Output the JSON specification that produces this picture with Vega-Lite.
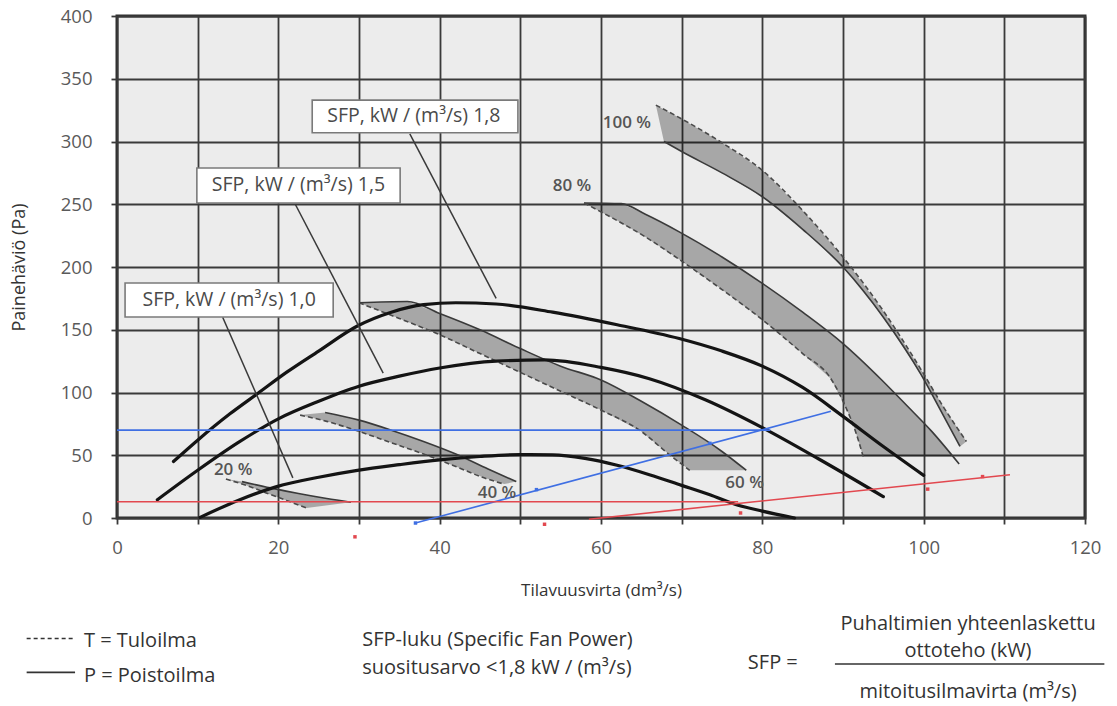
{
  "$schema": "https://vega.github.io/schema/vega-lite/v6.json",
  "width": 968,
  "height": 502,
  "autosize": {"type": "none"},
  "padding": {"left": 117, "top": 16, "right": 32, "bottom": 188},
  "background": "#ffffff",
  "config": {
    "view": {"fill": "#ececec", "stroke": "#2e2e2e", "strokeWidth": 3},
    "font": "Open Sans"
  },
  "datasets": {
    "fan": [
      {"curve": "A", "x": 7, "y": 45}, {"curve": "A", "x": 10, "y": 62}, {"curve": "A", "x": 14, "y": 83}, {"curve": "A", "x": 17.4, "y": 99},
      {"curve": "A", "x": 21, "y": 116}, {"curve": "A", "x": 25, "y": 133}, {"curve": "A", "x": 29.8, "y": 153}, {"curve": "A", "x": 34, "y": 164},
      {"curve": "A", "x": 38, "y": 170}, {"curve": "A", "x": 42, "y": 171.5}, {"curve": "A", "x": 47, "y": 170.5}, {"curve": "A", "x": 54, "y": 164},
      {"curve": "A", "x": 62, "y": 154}, {"curve": "A", "x": 69.7, "y": 143}, {"curve": "A", "x": 75, "y": 133}, {"curve": "A", "x": 80, "y": 121},
      {"curve": "A", "x": 85, "y": 104}, {"curve": "A", "x": 90, "y": 81}, {"curve": "A", "x": 95, "y": 57}, {"curve": "A", "x": 100, "y": 34},
      {"curve": "B", "x": 5, "y": 14.5}, {"curve": "B", "x": 10, "y": 38}, {"curve": "B", "x": 15, "y": 60}, {"curve": "B", "x": 20, "y": 79},
      {"curve": "B", "x": 25, "y": 93}, {"curve": "B", "x": 30, "y": 105}, {"curve": "B", "x": 35, "y": 113}, {"curve": "B", "x": 40, "y": 119.5},
      {"curve": "B", "x": 47, "y": 125}, {"curve": "B", "x": 53, "y": 126}, {"curve": "B", "x": 60, "y": 120}, {"curve": "B", "x": 66, "y": 111},
      {"curve": "B", "x": 73, "y": 94}, {"curve": "B", "x": 80, "y": 72}, {"curve": "B", "x": 87, "y": 47}, {"curve": "B", "x": 95, "y": 17},
      {"curve": "C", "x": 10.3, "y": 0.5}, {"curve": "C", "x": 15, "y": 14}, {"curve": "C", "x": 19.8, "y": 25}, {"curve": "C", "x": 25, "y": 32.5},
      {"curve": "C", "x": 29.8, "y": 38}, {"curve": "C", "x": 35, "y": 42.5}, {"curve": "C", "x": 40, "y": 46.3}, {"curve": "C", "x": 45, "y": 49},
      {"curve": "C", "x": 50, "y": 50.5}, {"curve": "C", "x": 54, "y": 50.3}, {"curve": "C", "x": 58, "y": 47.5}, {"curve": "C", "x": 62, "y": 42},
      {"curve": "C", "x": 66, "y": 34.5}, {"curve": "C", "x": 70, "y": 26}, {"curve": "C", "x": 73.5, "y": 18.5}, {"curve": "C", "x": 76.6, "y": 11},
      {"curve": "C", "x": 80, "y": 5.5}, {"curve": "C", "x": 84, "y": 0}
    ],
    "bandPoly": [
      {"band": "20", "i": 1, "x": 13.5, "y": 31}, {"band": "20", "i": 2, "x": 16, "y": 26}, {"band": "20", "i": 3, "x": 18.5, "y": 20},
      {"band": "20", "i": 4, "x": 21, "y": 14}, {"band": "20", "i": 5, "x": 23.5, "y": 8}, {"band": "20", "i": 6, "x": 29, "y": 12.5},
      {"band": "20", "i": 7, "x": 26, "y": 15.5}, {"band": "20", "i": 8, "x": 22.5, "y": 19.5}, {"band": "20", "i": 9, "x": 19, "y": 24},
      {"band": "20", "i": 10, "x": 15.5, "y": 29},
      {"band": "40", "i": 1, "x": 22.7, "y": 82}, {"band": "40", "i": 2, "x": 26, "y": 77}, {"band": "40", "i": 3, "x": 30, "y": 69},
      {"band": "40", "i": 4, "x": 34, "y": 60}, {"band": "40", "i": 5, "x": 38, "y": 51}, {"band": "40", "i": 6, "x": 42, "y": 41},
      {"band": "40", "i": 7, "x": 45.5, "y": 32}, {"band": "40", "i": 8, "x": 48, "y": 27}, {"band": "40", "i": 9, "x": 49.5, "y": 29},
      {"band": "40", "i": 10, "x": 46, "y": 39}, {"band": "40", "i": 11, "x": 42, "y": 51}, {"band": "40", "i": 12, "x": 38, "y": 61},
      {"band": "40", "i": 13, "x": 34, "y": 70}, {"band": "40", "i": 14, "x": 30, "y": 78}, {"band": "40", "i": 15, "x": 25.8, "y": 84},
      {"band": "60", "i": 1, "x": 30, "y": 171.5}, {"band": "60", "i": 2, "x": 35, "y": 159}, {"band": "60", "i": 3, "x": 40, "y": 146},
      {"band": "60", "i": 4, "x": 45, "y": 131}, {"band": "60", "i": 5, "x": 50, "y": 116}, {"band": "60", "i": 6, "x": 55, "y": 101},
      {"band": "60", "i": 7, "x": 60, "y": 86}, {"band": "60", "i": 8, "x": 65, "y": 69}, {"band": "60", "i": 9, "x": 68, "y": 53},
      {"band": "60", "i": 10, "x": 71, "y": 38}, {"band": "60", "i": 11, "x": 78, "y": 38}, {"band": "60", "i": 12, "x": 75, "y": 53},
      {"band": "60", "i": 13, "x": 70, "y": 74}, {"band": "60", "i": 14, "x": 65, "y": 93}, {"band": "60", "i": 15, "x": 60, "y": 110},
      {"band": "60", "i": 16, "x": 55, "y": 121}, {"band": "60", "i": 17, "x": 50, "y": 135}, {"band": "60", "i": 18, "x": 45, "y": 150},
      {"band": "60", "i": 19, "x": 40, "y": 163}, {"band": "60", "i": 20, "x": 36, "y": 172.5},
      {"band": "80", "i": 1, "x": 57.9, "y": 251}, {"band": "80", "i": 2, "x": 62, "y": 237}, {"band": "80", "i": 3, "x": 65.5, "y": 224},
      {"band": "80", "i": 4, "x": 69.7, "y": 206}, {"band": "80", "i": 5, "x": 75, "y": 182}, {"band": "80", "i": 6, "x": 80, "y": 158},
      {"band": "80", "i": 7, "x": 85, "y": 131}, {"band": "80", "i": 8, "x": 88.5, "y": 111}, {"band": "80", "i": 9, "x": 90.5, "y": 86},
      {"band": "80", "i": 10, "x": 91.5, "y": 70}, {"band": "80", "i": 11, "x": 92.5, "y": 49}, {"band": "80", "i": 12, "x": 103.7, "y": 49},
      {"band": "80", "i": 13, "x": 101, "y": 69}, {"band": "80", "i": 14, "x": 98, "y": 89}, {"band": "80", "i": 15, "x": 94.8, "y": 110},
      {"band": "80", "i": 16, "x": 90, "y": 139}, {"band": "80", "i": 17, "x": 85, "y": 164}, {"band": "80", "i": 18, "x": 80, "y": 187},
      {"band": "80", "i": 19, "x": 75, "y": 208}, {"band": "80", "i": 20, "x": 69.7, "y": 228}, {"band": "80", "i": 21, "x": 65.5, "y": 242},
      {"band": "80", "i": 22, "x": 62.5, "y": 250.5},
      {"band": "100", "i": 1, "x": 66.8, "y": 329}, {"band": "100", "i": 2, "x": 70, "y": 318}, {"band": "100", "i": 3, "x": 75, "y": 299},
      {"band": "100", "i": 4, "x": 80, "y": 277}, {"band": "100", "i": 5, "x": 85, "y": 245}, {"band": "100", "i": 6, "x": 90, "y": 208},
      {"band": "100", "i": 7, "x": 95, "y": 165}, {"band": "100", "i": 8, "x": 99.7, "y": 118}, {"band": "100", "i": 9, "x": 102.5, "y": 88},
      {"band": "100", "i": 10, "x": 105.3, "y": 61}, {"band": "100", "i": 11, "x": 104.5, "y": 57}, {"band": "100", "i": 12, "x": 102, "y": 87},
      {"band": "100", "i": 13, "x": 99.7, "y": 114}, {"band": "100", "i": 14, "x": 95, "y": 160}, {"band": "100", "i": 15, "x": 90, "y": 200},
      {"band": "100", "i": 16, "x": 85, "y": 230}, {"band": "100", "i": 17, "x": 80, "y": 256}, {"band": "100", "i": 18, "x": 75, "y": 275},
      {"band": "100", "i": 19, "x": 70, "y": 292}, {"band": "100", "i": 20, "x": 67.8, "y": 300}
    ],
    "edges": [
      {"id": "T20", "edge": "T", "x": 13.5, "y": 31}, {"id": "T20", "edge": "T", "x": 16, "y": 26}, {"id": "T20", "edge": "T", "x": 18.5, "y": 20},
      {"id": "T20", "edge": "T", "x": 21, "y": 14}, {"id": "T20", "edge": "T", "x": 23.5, "y": 8},
      {"id": "P20", "edge": "P", "x": 15.5, "y": 29}, {"id": "P20", "edge": "P", "x": 19, "y": 24}, {"id": "P20", "edge": "P", "x": 22.5, "y": 19.5},
      {"id": "P20", "edge": "P", "x": 26, "y": 15.5}, {"id": "P20", "edge": "P", "x": 29, "y": 12.5},
      {"id": "T40", "edge": "T", "x": 22.7, "y": 82}, {"id": "T40", "edge": "T", "x": 26, "y": 77}, {"id": "T40", "edge": "T", "x": 30, "y": 69},
      {"id": "T40", "edge": "T", "x": 34, "y": 60}, {"id": "T40", "edge": "T", "x": 38, "y": 51}, {"id": "T40", "edge": "T", "x": 42, "y": 41},
      {"id": "T40", "edge": "T", "x": 45.5, "y": 32}, {"id": "T40", "edge": "T", "x": 48, "y": 27},
      {"id": "P40", "edge": "P", "x": 25.8, "y": 84}, {"id": "P40", "edge": "P", "x": 30, "y": 78}, {"id": "P40", "edge": "P", "x": 34, "y": 70},
      {"id": "P40", "edge": "P", "x": 38, "y": 61}, {"id": "P40", "edge": "P", "x": 42, "y": 51}, {"id": "P40", "edge": "P", "x": 46, "y": 39},
      {"id": "P40", "edge": "P", "x": 49.5, "y": 29},
      {"id": "T60", "edge": "T", "x": 30, "y": 171.5}, {"id": "T60", "edge": "T", "x": 35, "y": 159}, {"id": "T60", "edge": "T", "x": 40, "y": 146},
      {"id": "T60", "edge": "T", "x": 45, "y": 131}, {"id": "T60", "edge": "T", "x": 50, "y": 116}, {"id": "T60", "edge": "T", "x": 55, "y": 101},
      {"id": "T60", "edge": "T", "x": 60, "y": 86}, {"id": "T60", "edge": "T", "x": 65, "y": 69}, {"id": "T60", "edge": "T", "x": 68, "y": 53},
      {"id": "T60", "edge": "T", "x": 71, "y": 38},
      {"id": "P60", "edge": "P", "x": 30, "y": 171.5}, {"id": "P60", "edge": "P", "x": 36, "y": 172.5}, {"id": "P60", "edge": "P", "x": 40, "y": 163},
      {"id": "P60", "edge": "P", "x": 45, "y": 150}, {"id": "P60", "edge": "P", "x": 50, "y": 135}, {"id": "P60", "edge": "P", "x": 55, "y": 121},
      {"id": "P60", "edge": "P", "x": 60, "y": 110}, {"id": "P60", "edge": "P", "x": 65, "y": 93}, {"id": "P60", "edge": "P", "x": 70, "y": 74},
      {"id": "P60", "edge": "P", "x": 75, "y": 53}, {"id": "P60", "edge": "P", "x": 78, "y": 38},
      {"id": "T80", "edge": "T", "x": 57.9, "y": 251}, {"id": "T80", "edge": "T", "x": 62, "y": 237}, {"id": "T80", "edge": "T", "x": 65.5, "y": 224},
      {"id": "T80", "edge": "T", "x": 69.7, "y": 206}, {"id": "T80", "edge": "T", "x": 75, "y": 182}, {"id": "T80", "edge": "T", "x": 80, "y": 158},
      {"id": "T80", "edge": "T", "x": 85, "y": 131}, {"id": "T80", "edge": "T", "x": 88.5, "y": 111}, {"id": "T80", "edge": "T", "x": 90.5, "y": 86},
      {"id": "T80", "edge": "T", "x": 91.5, "y": 70}, {"id": "T80", "edge": "T", "x": 92.5, "y": 49},
      {"id": "P80", "edge": "P", "x": 57.9, "y": 251}, {"id": "P80", "edge": "P", "x": 62.5, "y": 250.5}, {"id": "P80", "edge": "P", "x": 65.5, "y": 242},
      {"id": "P80", "edge": "P", "x": 69.7, "y": 228}, {"id": "P80", "edge": "P", "x": 75, "y": 208}, {"id": "P80", "edge": "P", "x": 80, "y": 187},
      {"id": "P80", "edge": "P", "x": 85, "y": 164}, {"id": "P80", "edge": "P", "x": 90, "y": 139}, {"id": "P80", "edge": "P", "x": 94.8, "y": 110},
      {"id": "P80", "edge": "P", "x": 98, "y": 89}, {"id": "P80", "edge": "P", "x": 101, "y": 69}, {"id": "P80", "edge": "P", "x": 104.4, "y": 43},
      {"id": "T100", "edge": "T", "x": 66.8, "y": 329}, {"id": "T100", "edge": "T", "x": 70, "y": 318}, {"id": "T100", "edge": "T", "x": 75, "y": 299},
      {"id": "T100", "edge": "T", "x": 80, "y": 277}, {"id": "T100", "edge": "T", "x": 85, "y": 245}, {"id": "T100", "edge": "T", "x": 90, "y": 208},
      {"id": "T100", "edge": "T", "x": 95, "y": 165}, {"id": "T100", "edge": "T", "x": 99.7, "y": 118}, {"id": "T100", "edge": "T", "x": 102.5, "y": 88},
      {"id": "T100", "edge": "T", "x": 105.3, "y": 61},
      {"id": "P100", "edge": "P", "x": 67.8, "y": 300}, {"id": "P100", "edge": "P", "x": 70, "y": 292}, {"id": "P100", "edge": "P", "x": 75, "y": 275},
      {"id": "P100", "edge": "P", "x": 80, "y": 256}, {"id": "P100", "edge": "P", "x": 85, "y": 230}, {"id": "P100", "edge": "P", "x": 90, "y": 200},
      {"id": "P100", "edge": "P", "x": 95, "y": 160}, {"id": "P100", "edge": "P", "x": 99.7, "y": 114}, {"id": "P100", "edge": "P", "x": 102, "y": 87},
      {"id": "P100", "edge": "P", "x": 104.5, "y": 57}
    ],
    "guides": [
      {"line": "blueH", "hue": "blue", "x": 0, "y": 70}, {"line": "blueH", "hue": "blue", "x": 81, "y": 70},
      {"line": "blueD", "hue": "blue", "x": 37, "y": -4}, {"line": "blueD", "hue": "blue", "x": 88.5, "y": 85},
      {"line": "redH", "hue": "red", "x": 0, "y": 13}, {"line": "redH", "hue": "red", "x": 77, "y": 13},
      {"line": "redD", "hue": "red", "x": 58.5, "y": -1}, {"line": "redD", "hue": "red", "x": 110.7, "y": 34.5}
    ],
    "dots": [
      {"hue": "blue", "x": 37, "y": -4}, {"hue": "blue", "x": 52, "y": 22.6}, {"hue": "blue", "x": 73.5, "y": 59.5},
      {"hue": "red", "x": 29.5, "y": -15}, {"hue": "red", "x": 53, "y": -5}, {"hue": "red", "x": 77.3, "y": 4},
      {"hue": "red", "x": 100.5, "y": 23}, {"hue": "red", "x": 107.3, "y": 33}
    ],
    "leaders": [
      {"id": "L18", "x": 36.3, "y": 306}, {"id": "L18", "x": 47, "y": 175},
      {"id": "L15", "x": 22.1, "y": 250}, {"id": "L15", "x": 33, "y": 115.5},
      {"id": "L10", "x": 13.1, "y": 160}, {"id": "L10", "x": 21.8, "y": 32}
    ],
    "boxes": [
      {"text": "SFP, kW / (m³/s) 1,8", "x": 24.2, "x2": 49.7, "y": 333, "y2": 307, "tx": 36.8, "ty": 320},
      {"text": "SFP, kW / (m³/s) 1,5", "x": 9.9, "x2": 35.1, "y": 278.9, "y2": 251, "tx": 22.5, "ty": 265},
      {"text": "SFP, kW / (m³/s) 1,0", "x": 1, "x2": 26.8, "y": 187.3, "y2": 160.2, "tx": 13.9, "ty": 173.7}
    ],
    "pct": [
      {"text": "20 %", "x": 14.4, "y": 38.2},
      {"text": "40 %", "x": 47.1, "y": 19.9},
      {"text": "60 %", "x": 77.8, "y": 27.9},
      {"text": "80 %", "x": 56.4, "y": 264.5},
      {"text": "100 %", "x": 63.2, "y": 314.5}
    ],
    "notes": [
      {"grp": "left", "text": "T = Tuloilma", "x": -4.1, "y": -98},
      {"grp": "left", "text": "P = Poistoilma", "x": -4.1, "y": -126},
      {"grp": "left", "text": "SFP-luku (Specific Fan Power)", "x": 30.4, "y": -97.5},
      {"grp": "left", "text": "suositusarvo <1,8 kW / (m³/s)", "x": 30.4, "y": -119.5},
      {"grp": "center", "text": "Puhaltimien yhteenlaskettu", "x": 105.5, "y": -84.5},
      {"grp": "center", "text": "ottoteho (kW)", "x": 105.5, "y": -106},
      {"grp": "center", "text": "SFP =", "x": 81.3, "y": -115.5},
      {"grp": "center", "text": "mitoitusilmavirta (m³/s)", "x": 105.5, "y": -138.6}
    ],
    "noteRules": [
      {"kind": "dash", "x": -11.2, "x2": -5.2, "y": -96},
      {"kind": "solid", "x": -11.2, "x2": -5.2, "y": -123},
      {"kind": "solid", "x": 89, "x2": 122.4, "y": -116.3}
    ]
  },
  "layer": [
    {
      "data": {"name": "bandPoly"},
      "mark": {"type": "line", "interpolate": "linear-closed", "fill": "#000000", "fillOpacity": 0.29, "stroke": "#000000", "strokeOpacity": 0, "strokeWidth": 0},
      "encoding": {
        "x": {
          "field": "x", "type": "quantitative",
          "scale": {"domain": [0, 120], "nice": false, "zero": false},
          "axis": {
            "values": [0, 10, 20, 30, 40, 50, 60, 70, 80, 90, 100, 110, 120],
            "labelExpr": "datum.value % 20 === 0 ? datum.label : ''",
            "labelOverlap": false, "labelFlush": false,
            "grid": true, "gridColor": "#3a3a3a", "gridWidth": 1.8, "gridOpacity": 1,
            "domain": false, "tickColor": "#3a3a3a", "tickSize": 6, "tickWidth": 1.8,
            "labelFontSize": 18.5, "labelColor": "#5a5a5a", "labelPadding": 14, "labelFont": "Open Sans",
            "title": "Tilavuusvirta (dm³/s)", "titleFontSize": 17, "titleFontWeight": "normal",
            "titleColor": "#333333", "titlePadding": 26, "titleFont": "Open Sans"
          }
        },
        "y": {
          "field": "y", "type": "quantitative",
          "scale": {"domain": [0, 400], "nice": false},
          "axis": {
            "values": [0, 50, 100, 150, 200, 250, 300, 350, 400],
            "labelOverlap": false, "labelFlush": false,
            "grid": true, "gridColor": "#3a3a3a", "gridWidth": 1.8, "gridOpacity": 1,
            "domain": false, "tickColor": "#3a3a3a", "tickSize": 6, "tickWidth": 1.8,
            "labelFontSize": 18.5, "labelColor": "#5a5a5a", "labelPadding": 19, "labelFont": "Open Sans",
            "title": "Painehäviö (Pa)", "titleFontSize": 18, "titleFontWeight": "normal",
            "titleColor": "#333333", "titlePadding": 32, "titleFont": "Open Sans"
          }
        },
        "detail": {"field": "band"},
        "order": {"field": "i", "type": "quantitative"}
      }
    },
    {
      "data": {"name": "edges"},
      "transform": [{"filter": "datum.edge === 'P'"}],
      "mark": {"type": "line", "interpolate": "monotone", "stroke": "#3a3a3a", "strokeWidth": 1.6},
      "encoding": {
        "x": {"field": "x", "type": "quantitative"},
        "y": {"field": "y", "type": "quantitative"},
        "detail": {"field": "id"}
      }
    },
    {
      "data": {"name": "edges"},
      "transform": [{"filter": "datum.edge === 'T'"}],
      "mark": {"type": "line", "interpolate": "monotone", "stroke": "#4a4a4a", "strokeWidth": 1.6, "strokeDash": [5, 3]},
      "encoding": {
        "x": {"field": "x", "type": "quantitative"},
        "y": {"field": "y", "type": "quantitative"},
        "detail": {"field": "id"}
      }
    },
    {
      "data": {"name": "fan"},
      "mark": {"type": "line", "interpolate": "monotone", "stroke": "#141414", "strokeWidth": 3.2, "strokeCap": "round"},
      "encoding": {
        "x": {"field": "x", "type": "quantitative"},
        "y": {"field": "y", "type": "quantitative"},
        "detail": {"field": "curve"}
      }
    },
    {
      "data": {"name": "guides"},
      "mark": {"type": "line", "strokeWidth": 1.6},
      "encoding": {
        "x": {"field": "x", "type": "quantitative"},
        "y": {"field": "y", "type": "quantitative"},
        "detail": {"field": "line"},
        "color": {"field": "hue", "type": "nominal", "scale": {"domain": ["blue", "red"], "range": ["#3f6fe3", "#e2484f"]}, "legend": null}
      }
    },
    {
      "data": {"name": "dots"},
      "mark": {"type": "square", "size": 12, "opacity": 1},
      "encoding": {
        "x": {"field": "x", "type": "quantitative"},
        "y": {"field": "y", "type": "quantitative"},
        "color": {"field": "hue", "type": "nominal", "scale": {"domain": ["blue", "red"], "range": ["#3f6fe3", "#e2484f"]}, "legend": null}
      }
    },
    {
      "data": {"name": "leaders"},
      "mark": {"type": "line", "stroke": "#3a3a3a", "strokeWidth": 1.5},
      "encoding": {
        "x": {"field": "x", "type": "quantitative"},
        "y": {"field": "y", "type": "quantitative"},
        "detail": {"field": "id"}
      }
    },
    {
      "data": {"name": "boxes"},
      "mark": {"type": "rect", "fill": "#ffffff", "stroke": "#7a7a7a", "strokeWidth": 1.6},
      "encoding": {
        "x": {"field": "x", "type": "quantitative"},
        "x2": {"field": "x2"},
        "y": {"field": "y", "type": "quantitative"},
        "y2": {"field": "y2"}
      }
    },
    {
      "data": {"name": "boxes"},
      "mark": {"type": "text", "fontSize": 19.5, "color": "#4a4a4a", "align": "center", "baseline": "middle", "font": "Open Sans"},
      "encoding": {
        "x": {"field": "tx", "type": "quantitative"},
        "y": {"field": "ty", "type": "quantitative"},
        "text": {"field": "text"}
      }
    },
    {
      "data": {"name": "pct"},
      "mark": {"type": "text", "fontSize": 17, "fontWeight": 600, "color": "#555555", "align": "center", "baseline": "middle", "font": "Open Sans"},
      "encoding": {
        "x": {"field": "x", "type": "quantitative"},
        "y": {"field": "y", "type": "quantitative"},
        "text": {"field": "text"}
      }
    },
    {
      "data": {"name": "notes"},
      "transform": [{"filter": "datum.grp === 'left'"}],
      "mark": {"type": "text", "fontSize": 20, "color": "#333333", "align": "left", "baseline": "middle", "font": "Open Sans"},
      "encoding": {
        "x": {"field": "x", "type": "quantitative"},
        "y": {"field": "y", "type": "quantitative"},
        "text": {"field": "text"}
      }
    },
    {
      "data": {"name": "notes"},
      "transform": [{"filter": "datum.grp === 'center'"}],
      "mark": {"type": "text", "fontSize": 20, "color": "#333333", "align": "center", "baseline": "middle", "font": "Open Sans"},
      "encoding": {
        "x": {"field": "x", "type": "quantitative"},
        "y": {"field": "y", "type": "quantitative"},
        "text": {"field": "text"}
      }
    },
    {
      "data": {"name": "noteRules"},
      "transform": [{"filter": "datum.kind === 'dash'"}],
      "mark": {"type": "rule", "stroke": "#333333", "strokeWidth": 1.6, "strokeDash": [4, 3]},
      "encoding": {
        "x": {"field": "x", "type": "quantitative"},
        "x2": {"field": "x2"},
        "y": {"field": "y", "type": "quantitative"}
      }
    },
    {
      "data": {"name": "noteRules"},
      "transform": [{"filter": "datum.kind === 'solid'"}],
      "mark": {"type": "rule", "stroke": "#333333", "strokeWidth": 1.6},
      "encoding": {
        "x": {"field": "x", "type": "quantitative"},
        "x2": {"field": "x2"},
        "y": {"field": "y", "type": "quantitative"}
      }
    }
  ]
}
